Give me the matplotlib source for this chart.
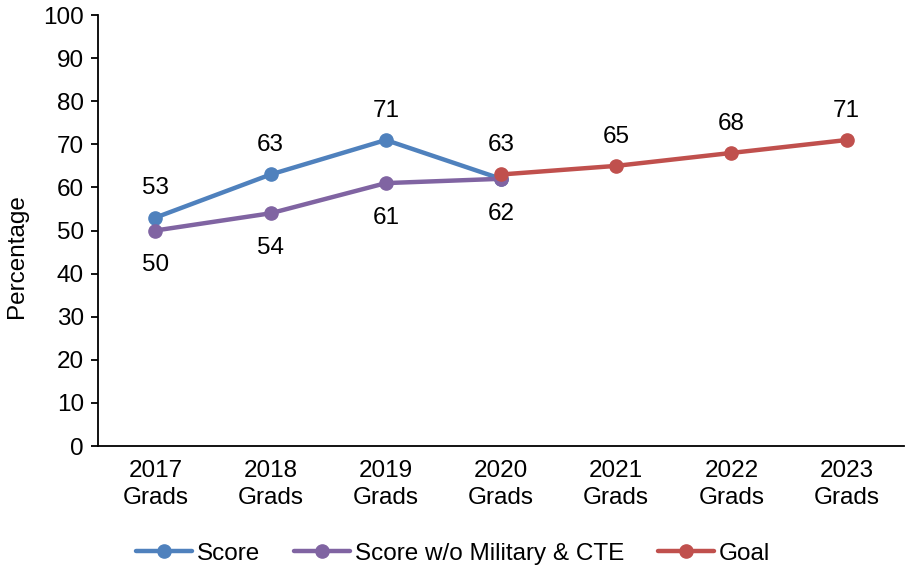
import matplotlib
matplotlib.use("Agg")
import matplotlib.pyplot as plt
import numpy as np

plt.rcParams['font.family'] = ['Liberation Sans', 'DejaVu Sans']

categories = ["2017\nGrads", "2018\nGrads", "2019\nGrads", "2020\nGrads",
              "2021\nGrads", "2022\nGrads", "2023\nGrads"]
score = [53, 63, 71, 62]
score_wo = [50, 54, 61, 62]
goal = [63, 65, 68, 71]
goal_idx = [3, 4, 5, 6]

c_blue = "#4F81BD"
c_purple = "#8064A2"
c_red = "#C0504D"

fig = plt.figure(figsize=(9.06, 5.67), dpi=100)
ax = fig.add_axes([0.108, 0.2134, 0.89, 0.7601])

x = np.arange(len(categories))
lw, ms = 3.2, 9.5
ax.plot(x[:4], score, color=c_blue, lw=lw, marker='o', ms=ms, label="Score", solid_capstyle='round')
ax.plot(x[:4], score_wo, color=c_purple, lw=lw, marker='o', ms=ms, label="Score w/o Military & CTE", solid_capstyle='round')
ax.plot(x[goal_idx], goal, color=c_red, lw=lw, marker='o', ms=ms, label="Goal", solid_capstyle='round')

fs = 17.5
for i, v in enumerate(score[:3]):
    ax.annotate(str(v), (x[i], v), xytext=(0, 21), textcoords='offset points', ha='center', va='center', fontsize=fs)
for i, v in enumerate(score_wo):
    ax.annotate(str(v), (x[i], v), xytext=(0, -25), textcoords='offset points', ha='center', va='center', fontsize=fs)
for i, v in zip(goal_idx, goal):
    ax.annotate(str(v), (x[i], v), xytext=(0, 21), textcoords='offset points', ha='center', va='center', fontsize=fs)

ax.set_xlim(-0.5, len(categories) - 0.5)
ax.set_ylim(0, 100)
ax.set_yticks(range(0, 101, 10))
ax.set_xticks(x)
ax.set_xticklabels(categories, fontsize=fs, linespacing=1.3)
ax.tick_params(axis='x', length=0, pad=10)
ax.tick_params(axis='y', labelsize=fs, length=5, width=1.3, direction='out', pad=5)
for s in ['top', 'right']:
    ax.spines[s].set_visible(False)
for s in ['left', 'bottom']:
    ax.spines[s].set_linewidth(1.3)
ax.set_ylabel("Percentage", fontsize=fs)
ax.yaxis.set_label_coords(-0.087, 0.44)

leg = fig.legend(loc='lower center', bbox_to_anchor=(0.5, -0.035), ncol=3, frameon=False,
                 fontsize=fs, handlelength=2.3, handletextpad=0.2, columnspacing=1.4)

fig.savefig("out.png", dpi=100)
